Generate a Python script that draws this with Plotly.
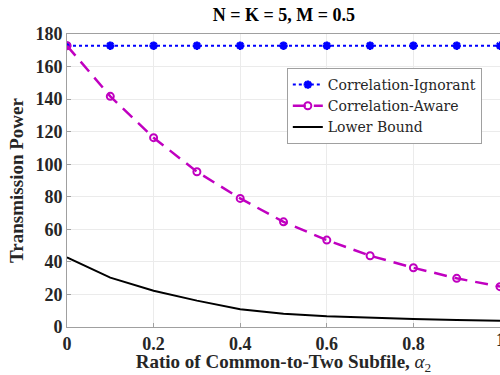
import plotly.graph_objects as go

alpha = [0, 0.1, 0.2, 0.3, 0.4, 0.5, 0.6, 0.7, 0.8, 0.9, 1.0]
ignorant = [172.8] * 11
aware = [172.8, 141.7, 116.3, 95.4, 79.0, 64.6, 53.4, 43.8, 36.4, 29.9, 24.8]
lower = [42.8, 30.3, 22.3, 16.2, 10.9, 8.2, 6.6, 5.6, 4.9, 4.3, 3.8]
xticks = [0, 0.2, 0.4, 0.6, 0.8]
xticklabels = ["0", "0.2", "0.4", "0.6", "0.8"]
xlast = 1
xlast_label = "1"
yticks = [0, 20, 40, 60, 80, 100, 120, 140, 160, 180]

fig = go.Figure()
fig.add_trace(go.Scatter(
    x=alpha, y=ignorant, name="Correlation-Ignorant", mode="lines+markers",
    line=dict(color="#0000FF", width=2, dash="dot"),
    marker=dict(symbol="asterisk-open", size=7, color="#0000FF", line=dict(color="#0000FF", width=2.5)),
))
fig.add_trace(go.Scatter(
    x=alpha, y=aware, name="Correlation-Aware", mode="lines+markers",
    line=dict(color="#C000C0", width=2.5, dash="13px,8px"),
    marker=dict(symbol="circle-open", size=7, color="#C000C0", line=dict(color="#C000C0", width=2)),
))
fig.add_trace(go.Scatter(
    x=alpha, y=lower, name="Lower Bound", mode="lines",
    line=dict(color="black", width=2),
))

tickfont = dict(family="Liberation Serif", size=18, color="#262626")
axis_common = dict(
    showline=True, linecolor="#A0A0A0", linewidth=1, mirror=True,
    showgrid=True, gridcolor="#EBEBEB", gridwidth=1,
    ticks="inside", ticklen=4, tickcolor="#A0A0A0",
    zeroline=False,
    tickfont=tickfont,
)

fig.update_layout(
    width=500, height=375,
    margin=dict(l=67, r=0, t=34, b=48, autoexpand=False),
    paper_bgcolor="white", plot_bgcolor="white",
    title=dict(text="<b>N = K = 5, M = 0.5</b>", x=0.568, xanchor="center", y=0.962, yanchor="middle",
               font=dict(family="Liberation Serif", size=18, color="black")),
    xaxis=dict(range=[0, 1], tickvals=xticks, ticktext=["<b>%s</b>" % t for t in xticklabels],
               title=dict(text="<b>Ratio of Common-to-Two Subfile, </b><i>α</i><sub>2</sub>", standoff=2,
                          font=dict(family="Liberation Serif", size=19, color="#262626")),
               **axis_common),
    yaxis=dict(range=[0, 180], tickvals=yticks,
               ticktext=["<b>%d</b>" % v for v in yticks],
               title=dict(text="<b>Transmission Power</b>", standoff=6,
                          font=dict(family="Liberation Serif", size=19, color="#262626")),
               **axis_common),
    legend=dict(x=0.958, y=0.884, xanchor="right", yanchor="top",
                bgcolor="white", bordercolor="#A0A0A0", borderwidth=1,
                font=dict(family="DejaVu Serif", size=14, color="#262626"),
                tracegroupgap=0, itemwidth=30),
    showlegend=True,
)
fig.add_annotation(x=xlast, xref="x", y=0, yref="paper", yanchor="top", yshift=-1,
                   text="<b>%s</b>" % xlast_label, showarrow=False, font=tickfont)

fig.write_html("out.html", config={"displayModeBar": False})
with open("out.html", "r", encoding="utf-8") as f:
    html = f.read()
html = html.replace("<head>", "<head><style>html,body{margin:0;padding:0;overflow:hidden;}</style>", 1)
with open("out.html", "w", encoding="utf-8") as f:
    f.write(html)
